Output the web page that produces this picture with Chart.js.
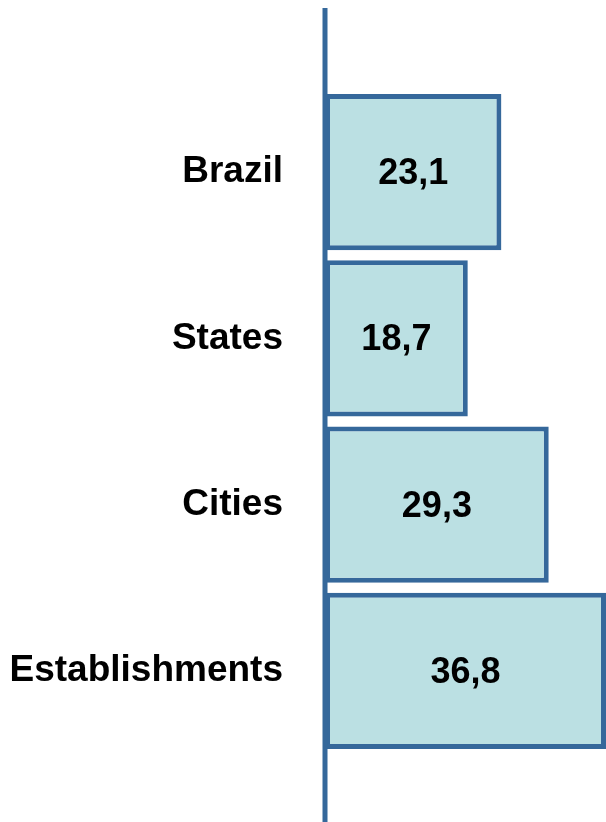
<!DOCTYPE html>
<html>
<head>
<meta charset="utf-8">
<script src="https://cdn.jsdelivr.net/npm/chart.js@4/dist/chart.umd.min.js"></script>
<style>
  body { margin: 0; background: #fff; }
  #wrap { width: 606px; height: 822px; }
</style>
</head>
<body>
<div id="wrap"><canvas id="grafico"></canvas></div>
<script>
const categorias = ['Brazil', 'States', 'Cities', 'Establishments'];
const valores = [23.1, 18.7, 29.3, 36.8];

const azul = '#35689b';
const fundo = '#bbe0e3';

// linha do eixo vertical, do topo ate o fim do canvas
const eixoPlugin = {
    id: 'eixo',
    afterDatasetsDraw(chart) {
        const ctx = chart.ctx;
        const x = chart.scales.x.getPixelForValue(0);
        ctx.save();
        ctx.strokeStyle = azul;
        ctx.lineWidth = 5;
        ctx.beginPath();
        ctx.moveTo(x, 8);
        ctx.lineTo(x, chart.height);
        ctx.stroke();
        ctx.restore();
    }
};

// rotulos com virgula no meio das barras
const rotulosPlugin = {
    id: 'rotulos',
    afterDatasetsDraw(chart) {
        const ctx = chart.ctx;
        const meta = chart.getDatasetMeta(0);
        ctx.save();
        ctx.font = 'bold 36px "Liberation Sans", Arial, sans-serif';
        ctx.fillStyle = '#000';
        ctx.textAlign = 'center';
        ctx.textBaseline = 'middle';
        meta.data.forEach((bar, i) => {
            const p = bar.getCenterPoint();
            ctx.fillText(valores[i].toFixed(1).replace('.', ','), p.x, p.y + 2);
        });
        ctx.restore();
    }
};

const ctx = document.getElementById('grafico').getContext('2d');
const grafico = new Chart(ctx, {
    type: 'bar',
    data: {
        labels: categorias,
        datasets: [{
            data: valores,
            backgroundColor: fundo,
            borderColor: azul,
            borderWidth: 5,
            borderSkipped: false,
            barPercentage: 0.94,
            categoryPercentage: 1
        }]
    },
    options: {
        indexAxis: 'y',
        responsive: true,
        maintainAspectRatio: false,
        animation: false,
        layout: { padding: { top: 89, bottom: 68, left: 0, right: 0 } },
        plugins: {
            legend: { display: false },
            tooltip: { enabled: false }
        },
        scales: {
            x: {
                display: false,
                min: 0,
                max: Math.max(...valores)
            },
            y: {
                grid: { display: false, drawTicks: false },
                border: { display: false },
                afterFit: s => { s.width = 325; },
                ticks: {
                    padding: 42,
                    color: '#000',
                    font: { family: '"Liberation Sans", Arial, sans-serif', size: 37, weight: 'bold' }
                }
            }
        }
    },
    plugins: [eixoPlugin, rotulosPlugin]
});
</script>
</body>
</html>
